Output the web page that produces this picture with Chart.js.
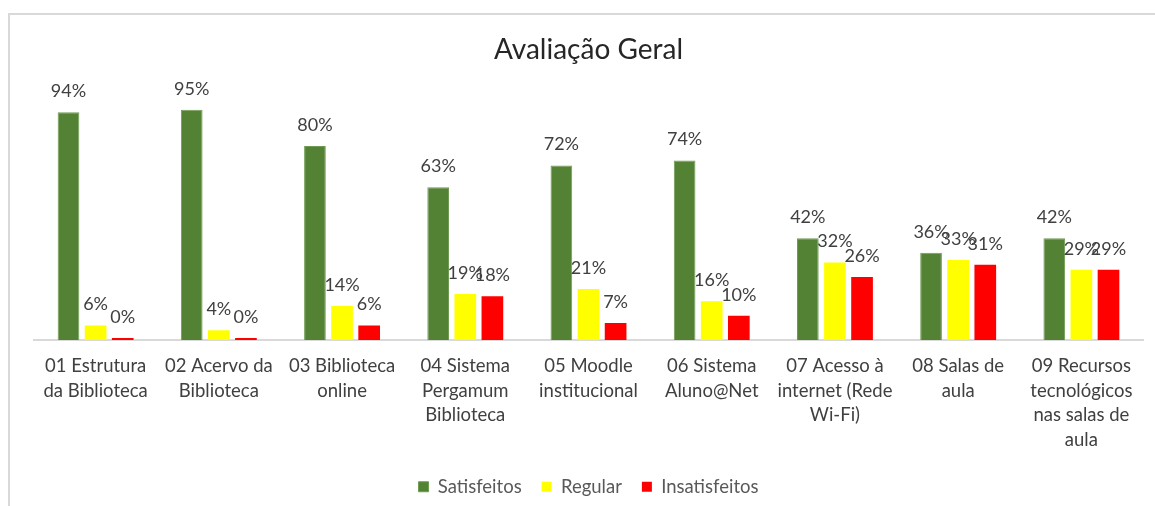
<!DOCTYPE html>
<html>
<head>
<meta charset="utf-8">
<script src="https://cdn.jsdelivr.net/npm/chart.js@4.4.1/dist/chart.umd.min.js"></script>
<style>
  html, body { margin: 0; padding: 0; background: #fff; }
  #wrap { position: relative; width: 1155px; height: 506px; overflow: hidden; }
  #frame { position: absolute; left: 8px; top: 13px; width: 1200px; height: 600px; border: 2px solid #d9d9d9; }
  canvas { position: absolute; left: 0; top: 0; }
</style>
</head>
<body>
<div id="wrap">
  <div id="frame"></div>
  <canvas id="chart" width="1155" height="506"></canvas>
</div>
<script>
const categories = [
  ["01 Estrutura", "da Biblioteca"],
  ["02 Acervo da", "Biblioteca"],
  ["03 Biblioteca", "online"],
  ["04 Sistema", "Pergamum", "Biblioteca"],
  ["05 Moodle", "institucional"],
  ["06 Sistema", "Aluno@Net"],
  ["07 Acesso à", "internet (Rede", "Wi-Fi)"],
  ["08 Salas de", "aula"],
  ["09 Recursos", "tecnológicos", "nas salas de", "aula"],
];
const satisfeitos = [94, 95, 80, 63, 72, 74, 42, 36, 42];
const regular = [6, 4, 14, 19, 21, 16, 32, 33, 29];
const insatisfeitos = [0.4, 0.4, 6, 18, 7, 10, 26, 31, 29];

const FONT = "Lato";

// data labels drawn above each bar
const barLabels = {
  id: "barLabels",
  afterDatasetsDraw(chart) {
    const ctx = chart.ctx;
    ctx.save();
    ctx.font = `18px ${FONT}`;
    ctx.fillStyle = "#404040";
    ctx.textAlign = "center";
    ctx.textBaseline = "middle";
    chart.data.datasets.forEach((ds, i) => {
      chart.getDatasetMeta(i).data.forEach((bar, j) => {
        ctx.fillText(Math.round(ds.data[j]) + "%", bar.x, bar.y - 21);
      });
    });
    ctx.restore();
  },
};

new Chart(document.getElementById("chart"), {
  type: "bar",
  data: {
    labels: categories,
    datasets: [
      { label: "Satisfeitos", data: satisfeitos, backgroundColor: "#548235", borderColor: "#6f9a52", borderWidth: 1 },
      { label: "Regular", data: regular, backgroundColor: "#ffff00" },
      { label: "Insatisfeitos", data: insatisfeitos, backgroundColor: "#ff0000", minBarLength: 2 },
    ],
  },
  options: {
    responsive: false,
    animation: false,
    devicePixelRatio: 1,
    categoryPercentage: 0.66,
    barPercentage: 0.8,
    layout: { padding: { left: 34, right: 12, top: 20, bottom: 0 } },
    scales: {
      y: { display: false, min: 0, max: 100 },
      x: {
        grid: { display: false, drawTicks: false },
        border: { display: true, color: "#d9d9d9", width: 2, z: -1 },
        ticks: {
          font: { family: FONT, size: 18.5, lineHeight: 24.5 / 18.5 },
          color: "#404040",
          maxRotation: 0,
          autoSkip: false,
          padding: 14,
        },
        afterFit(scale) {
          scale.height = 117.5;
        },
      },
    },
    plugins: {
      title: {
        display: true,
        text: "Avaliação Geral",
        color: "#262626",
        font: { family: FONT, size: 28, weight: "normal" },
        padding: { top: 13, bottom: 31 },
      },
      legend: {
        position: "bottom",
        labels: {
          boxWidth: 10,
          boxHeight: 10,
          padding: 20,
          color: "#595959",
          font: { family: FONT, size: 18.5 },
        },
      },
      tooltip: { enabled: false },
    },
  },
  plugins: [barLabels],
});
</script>
</body>
</html>
